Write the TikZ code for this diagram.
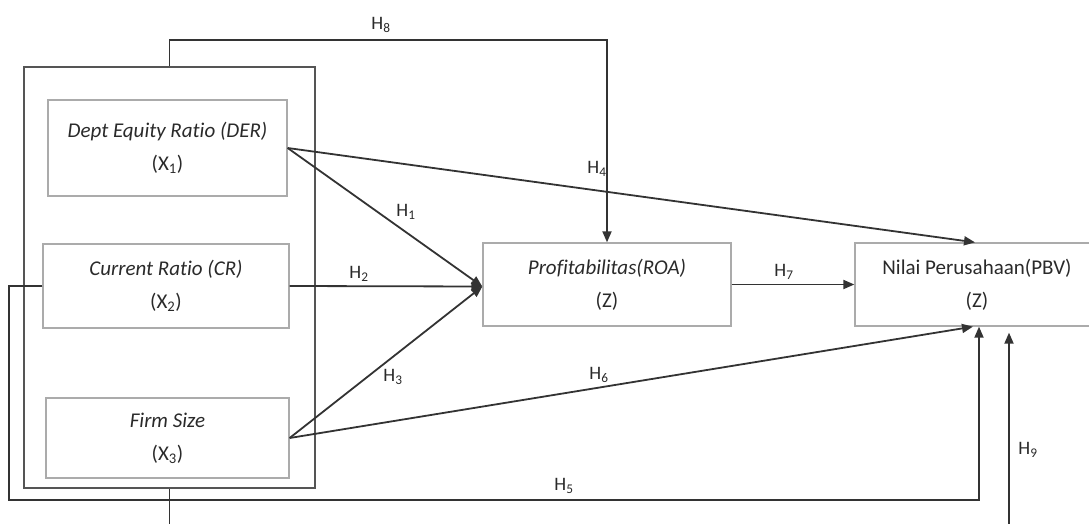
\documentclass[tikz,border=0pt]{standalone}
\usepackage{fontspec}
\setmainfont{Carlito}[Ligatures=NoCommon]
\usetikzlibrary{arrows.meta,calc}
\definecolor{txt}{HTML}{2A2A2A}
\definecolor{boxgray}{HTML}{ABABAB}
\definecolor{grpgray}{HTML}{555555}
\definecolor{lnk}{HTML}{333333}
\begin{document}
\begin{tikzpicture}[x=1pt,y=-1pt,
  var/.style={draw=boxgray, line width=1.3pt, rectangle, align=center,
    font=\fontsize{21}{33}\selectfont, text=txt, inner sep=0pt},
  group/.style={draw=grpgray, line width=2.4pt, rectangle, inner sep=0pt},
  link/.style={draw=lnk, line width=1.8pt},
  arr/.style={link, -{Triangle[length=11pt,width=9pt]}},
  hyp/.style={font=\fontsize{19}{19}\selectfont, text=txt, inner sep=0pt}]

\useasboundingbox (0,0) rectangle (1089,524);
\clip (0,0) rectangle (1089,524);

% independent variables inside the group frame
\node[group, minimum width=291pt, minimum height=421pt] (grp) at (169.5,277.5) {};
\node[var, minimum width=239pt, minimum height=96pt] (der) at (167.5,148)
  {\textit{Dept Equity Ratio (DER)}\\(X\textsubscript{1})};
\node[var, minimum width=246pt, minimum height=84pt] (cr) at (166,286)
  {\textit{Current Ratio (CR)}\\(X\textsubscript{2})};
\node[var, minimum width=243pt, minimum height=80pt] (fs) at (167.5,438)
  {\textit{Firm Size}\\(X\textsubscript{3})};

% intervening and dependent variables
\node[var, minimum width=248pt, minimum height=83pt] (prof) at (607,284.5)
  {\textit{Profitabilitas(ROA)}\\(Z)};
\node[var, minimum width=244pt, minimum height=83pt] (nilai) at (977,284.5)
  {Nilai Perusahaan(PBV)\\(Z)};

\coordinate (join) at ($(prof.west)+(0,2)$);

% direct paths
\draw[arr] (der.east) -- (join);
\draw[arr] (cr.east) -- (join);
\draw[arr] (fs.east) -- (join);
\draw[arr] (prof.east) -- (nilai.west);
\draw[arr] (der.east) -- ($(nilai.north)+(-2,0)$);
\draw[arr] (fs.east) -- ($(nilai.south)+(-4,0)$);

% paths around the frame
\draw[arr] (grp.north) -- ++(0,-26) -| (prof.north);
\draw[arr] (cr.west) -- ++(-33,0) -- ++(0,214) -| ($(nilai.south)+(2,0)$);
\draw[arr] (grp.south) -- ++(0,50) -| ($(nilai.south)+(32,6)$);

% hypothesis labels
\node[hyp] (h1) at (406,212) {H\textsubscript{1}};
\node[hyp] (h2) at (359,274) {H\textsubscript{2}};
\node[hyp] (h3) at (393,377) {H\textsubscript{3}};
\node[hyp] (h4) at (597,169) {H\textsubscript{4}};
\node[hyp] (h5) at (564,486) {H\textsubscript{5}};
\node[hyp] (h6) at (599,375) {H\textsubscript{6}};
\node[hyp] (h7) at (784,272) {H\textsubscript{7}};
\node[hyp] (h8) at (381,25) {H\textsubscript{8}};
\node[hyp] (h9) at (1028,450) {H\textsubscript{9}};
\end{tikzpicture}
\end{document}
